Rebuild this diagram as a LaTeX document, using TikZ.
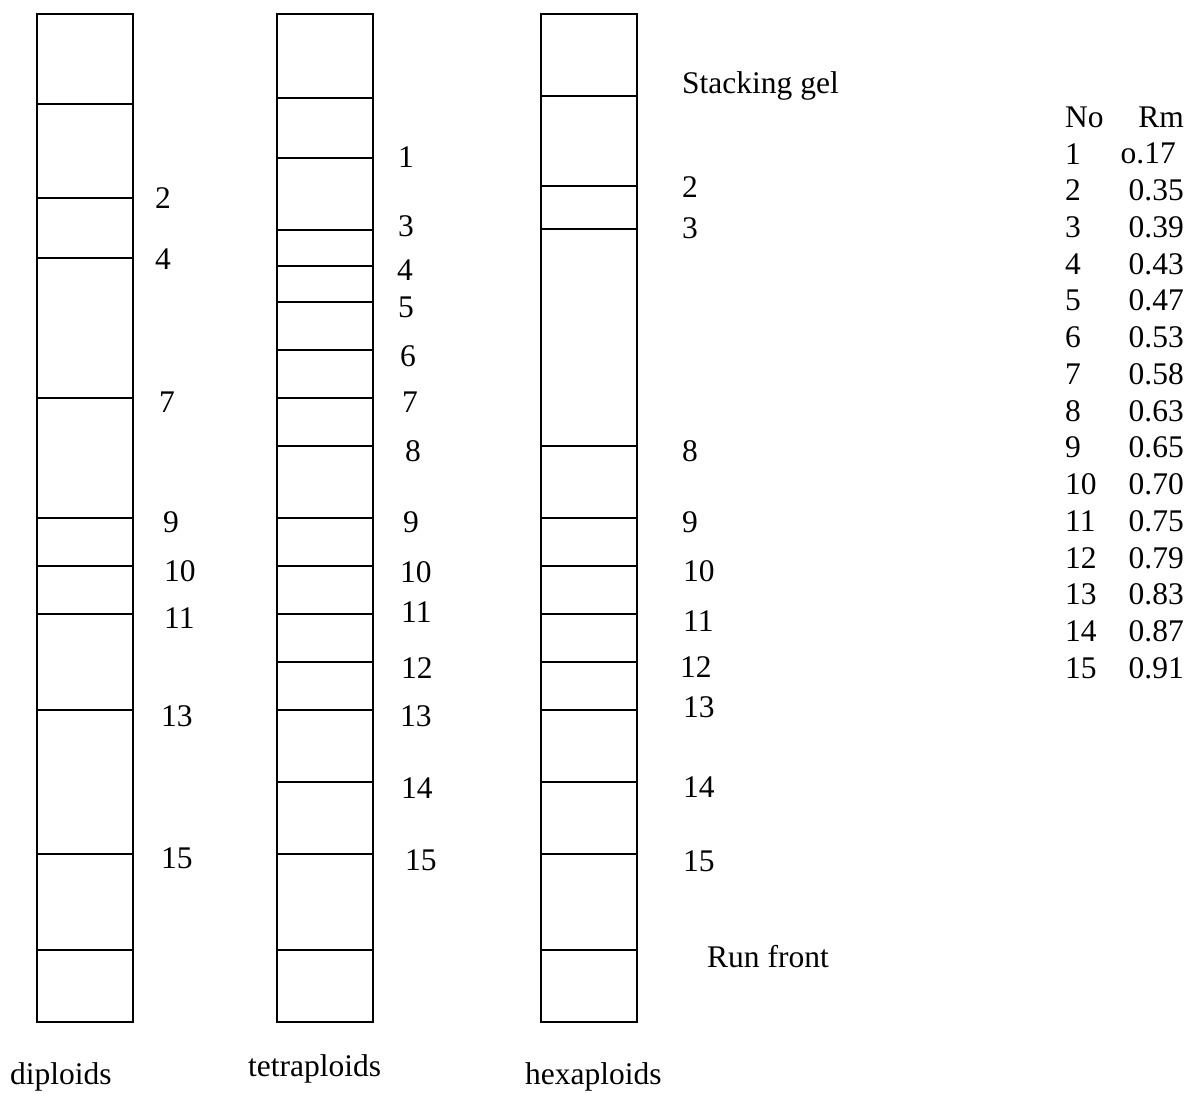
\documentclass[tikz,border=0pt]{standalone}
\usepackage{fontspec}
\setmainfont{Liberation Serif}
\begin{document}
\begin{tikzpicture}[x=1pt,y=-1pt,
  lanebox/.style={draw,line width=1.5pt},
  band/.style={line width=1.5pt},
  txt/.style={inner sep=0pt,font=\fontsize{31.5}{36}\selectfont},
  lbl/.style={txt,anchor=west},
  tabl/.style={txt,anchor=west},
  tabr/.style={txt,anchor=east}]
\useasboundingbox (0,0) rectangle (1189,1093);
% lanes
\draw[lanebox] (37,14) rectangle (133,1022);
\draw[lanebox] (277,14) rectangle (373,1022);
\draw[lanebox] (541,14) rectangle (637,1022);
% bands diploids
\foreach \y in {104,198,258,398,518,566,614,710,854,950}
  \draw[band] (37,\y) -- (133,\y);
% bands tetraploids
\foreach \y in {98,158,230,266,302,350,398,446,518,566,614,662,710,782,854,950}
  \draw[band] (277,\y) -- (373,\y);
% bands hexaploids
\foreach \y in {96,186,229,446,518,566,614,662,710,782,854,950}
  \draw[band] (541,\y) -- (637,\y);
% labels diploids
\foreach \t/\x/\y in {2/155/198,4/155/259,7/159/402,9/163/522,10/164/571,11/164/618,13/161/716,15/161/858}
  \node[lbl] (d\t) at (\x,\y) {\t};
% labels tetraploids
\foreach \t/\x/\y in {1/398/157,3/398/226,4/397/270,5/398/307,6/400/356,7/402/402,8/405/451,9/403/522,10/400/572,11/401/612,12/401/668,13/400/716,14/401/788,15/405/860}
  \node[lbl] (t\t) at (\x,\y) {\t};
% labels hexaploids
\foreach \t/\x/\y in {2/682/187,3/682/228,8/682/451,9/682/522,10/683/571,11/683/621,12/680/667,13/683/707,14/683/787,15/683/861}
  \node[lbl] (h\t) at (\x,\y) {\t};
\node[txt,anchor=base west] (stack) at (682,93) {Stacking gel};
\node[txt,anchor=base west] (run) at (707,967) {Run front};
% lane names
\node[txt,anchor=base west] (ndip) at (10,1084) {diploids};
\node[txt,anchor=base west] (ntet) at (248,1076) {tetraploids};
\node[txt,anchor=base west] (nhex) at (525,1084) {hexaploids};
% table
\node[tabl] (hno) at (1065,117) {No};
\node[tabr] (hrm) at (1184,117) {Rm};
\foreach \n [count=\i] in {1,2,3,4,5,6,7,8,9,10,11,12,13,14,15}{
  \pgfmathsetmacro{\yy}{117+36.73*\i}
  \node[tabl] (no\n) at (1065,\yy) {\n};
}
\foreach \n/\v [count=\i] in {2/0.35,3/0.39,4/0.43,5/0.47,6/0.53,7/0.58,8/0.63,9/0.65,10/0.70,11/0.75,12/0.79,13/0.83,14/0.87,15/0.91}{
  \pgfmathsetmacro{\yy}{117+36.73*(\i+1)}
  \node[tabr] (rm\n) at (1184,\yy) {\v};
}
\node[tabr] (rm1) at (1176,153.73) {o.17};
\end{tikzpicture}
\end{document}
